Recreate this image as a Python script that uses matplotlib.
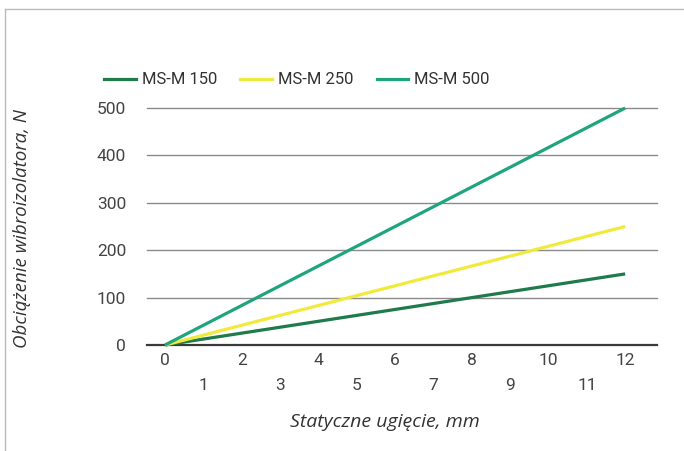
import matplotlib.pyplot as plt
from matplotlib.lines import Line2D

# data
series_names = ["MS-M 150", "MS-M 250", "MS-M 500"]
deflection = [0, 12]
load_150 = [0, 150]
load_250 = [0, 250]
load_500 = [0, 500]
y_ticks = [0, 100, 200, 300, 400, 500]
x_even = [0, 2, 4, 6, 8, 10, 12]
x_odd = [1, 3, 5, 7, 9, 11]

colors = ["#1f7a4c", "#f0ea3c", "#1fa57e"]

W, H = 684, 451
fig = plt.figure(figsize=(W / 100, H / 100), dpi=100)
fig.patch.set_facecolor("white")

# axes placed in pixel coords: x 147..657, y 108 (500) .. 345 (0)
ax = fig.add_axes([147 / W, 1 - 345 / H, (657 - 147) / W, (345 - 108) / H])
ax.set_xlim(-0.47, 12.83)
ax.set_ylim(0, 500)

for vals, c, name in zip([load_150, load_250, load_500], colors, series_names):
    ax.plot(deflection, vals, color=c, lw=2.3, label=name, clip_on=False, zorder=3,
            solid_capstyle="butt")

for s in ax.spines.values():
    s.set_visible(False)

for yv in y_ticks[1:]:
    ax.axhline(yv, color="#8a8a8a", lw=1.0, zorder=1, clip_on=False)
ax.axhline(0, color="#3a3a3a", lw=1.6, zorder=2, clip_on=False)

ax.set_yticks(y_ticks)
ax.set_yticklabels([str(v) for v in y_ticks])
ax.set_xticks(x_even)
ax.set_xticklabels([str(v) for v in x_even])
ax.set_xticks(x_odd, minor=True)
ax.set_xticklabels([str(v) for v in x_odd], minor=True)

for t in ax.get_yticklabels() + ax.get_xticklabels() + ax.get_xticklabels(minor=True):
    t.set_fontfamily("Roboto")
    t.set_fontsize(12.5)
    t.set_color("#444444")
ax.tick_params(axis="y", length=0, pad=15)
ax.tick_params(axis="x", which="major", length=0, pad=6)
ax.tick_params(axis="x", which="minor", length=0, pad=24)

fig.text(385 / W, 1 - 422 / H, "Statyczne ugięcie, mm", ha="center", va="center",
         fontfamily="Open Sans", style="italic", fontsize=14, color="#333333")
fig.text(22 / W, 1 - 228 / H, "Obciążenie wibroizolatora, N", ha="center", va="center",
         rotation=90, fontfamily="Open Sans", style="italic", fontsize=13.5, color="#333333")

handles = [Line2D([0], [0], color=c, lw=2.3) for c in colors]
fig.legend(handles, series_names, loc="center", bbox_to_anchor=(297 / W, 1 - 80 / H),
           ncol=3, frameon=False, prop={"family": "Roboto", "size": 12},
           handlelength=1.9, handletextpad=0.35, columnspacing=1.4, labelcolor="#333333")

# thin frame around the picture (top and left)
fig.add_artist(Line2D([5 / W, 1], [1 - 9 / H, 1 - 9 / H], color="#bbbbbb", lw=1,
                      transform=fig.transFigure))
fig.add_artist(Line2D([5 / W, 5 / W], [0, 1 - 9 / H], color="#bbbbbb", lw=1,
                      transform=fig.transFigure))

fig.savefig("out.png", dpi=100)
